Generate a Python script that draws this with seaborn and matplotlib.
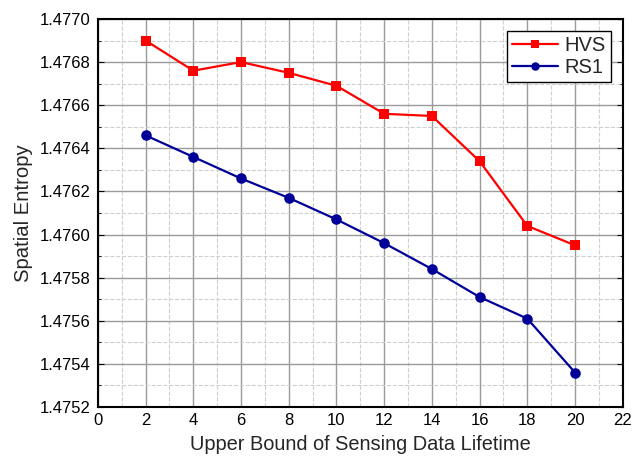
import pandas as pd
import numpy as np
import matplotlib
matplotlib.use("Agg")
import matplotlib.pyplot as plt
from matplotlib.ticker import MultipleLocator, FormatStrFormatter
import seaborn as sns

# values
lifetime = [2, 4, 6, 8, 10, 12, 14, 16, 18, 20]
hvs = [1.47690, 1.47676, 1.47680, 1.47675, 1.47669, 1.47656, 1.47655, 1.47634, 1.47604, 1.47595]
rs1 = [1.47646, 1.47636, 1.47626, 1.47617, 1.47607, 1.47596, 1.47584, 1.47571, 1.47561, 1.47536]
series = ["HVS", "RS1"]

df = pd.concat([
    pd.DataFrame({"lifetime": lifetime, "entropy": hvs, "scheme": "HVS"}),
    pd.DataFrame({"lifetime": lifetime, "entropy": rs1, "scheme": "RS1"}),
])

sns.set_style("ticks")
plt.rcParams["font.family"] = ["Liberation Sans", "DejaVu Sans"]

fig = plt.figure(figsize=(6.44, 4.62), dpi=100)
ax = fig.add_axes([0.152, 0.119, 0.815, 0.840])

ax.grid(which="major", color="#9a9a9a", linestyle="-", linewidth=1.0)
ax.grid(which="minor", color="#cfcfcf", linestyle="--", linewidth=0.8)
ax.set_axisbelow(True)

sns.lineplot(data=df, x="lifetime", y="entropy", hue="scheme", style="scheme",
             hue_order=series, style_order=series,
             palette={"HVS": "#ff0000", "RS1": "#000099"},
             markers={"HVS": "s", "RS1": "o"}, dashes=False,
             markersize=7.6, markeredgewidth=0, linewidth=1.6, ax=ax)
# squares a little smaller than circles, as in the reference
for ln in ax.lines:
    if ln.get_marker() == "s":
        ln.set_markersize(6.6)

ax.set_xlim(0, 22)
ax.set_ylim(1.4752, 1.4770)
ax.xaxis.set_major_locator(MultipleLocator(2))
ax.xaxis.set_minor_locator(MultipleLocator(1))
ax.yaxis.set_major_locator(MultipleLocator(0.0002))
ax.yaxis.set_minor_locator(MultipleLocator(0.0001))
ax.yaxis.set_major_formatter(FormatStrFormatter("%.4f"))
ax.tick_params(which="both", direction="in", left=True, right=True, bottom=False, top=False,
               labelsize=12, colors="black")
ax.tick_params(which="major", length=4)
ax.tick_params(which="minor", length=2)
ax.tick_params(axis="x", pad=4)
ax.tick_params(axis="y", pad=5)

for s in ax.spines.values():
    s.set_linewidth(1.5)
    s.set_color("black")

ax.set_xlabel("Upper Bound of Sensing Data Lifetime", fontsize=14.4, labelpad=5)
ax.set_ylabel("Spatial Entropy", fontsize=14.6, labelpad=5)

leg = ax.legend(loc="upper right", fontsize=14.5, frameon=True, fancybox=False,
                edgecolor="black", handlelength=2.3, borderaxespad=0.6,
                borderpad=0.25, labelspacing=0.15, handletextpad=0.3,
                markerscale=0.8)
leg.get_frame().set_linewidth(1.0)
leg.get_frame().set_alpha(1)

fig.savefig("out.png", dpi=100)
